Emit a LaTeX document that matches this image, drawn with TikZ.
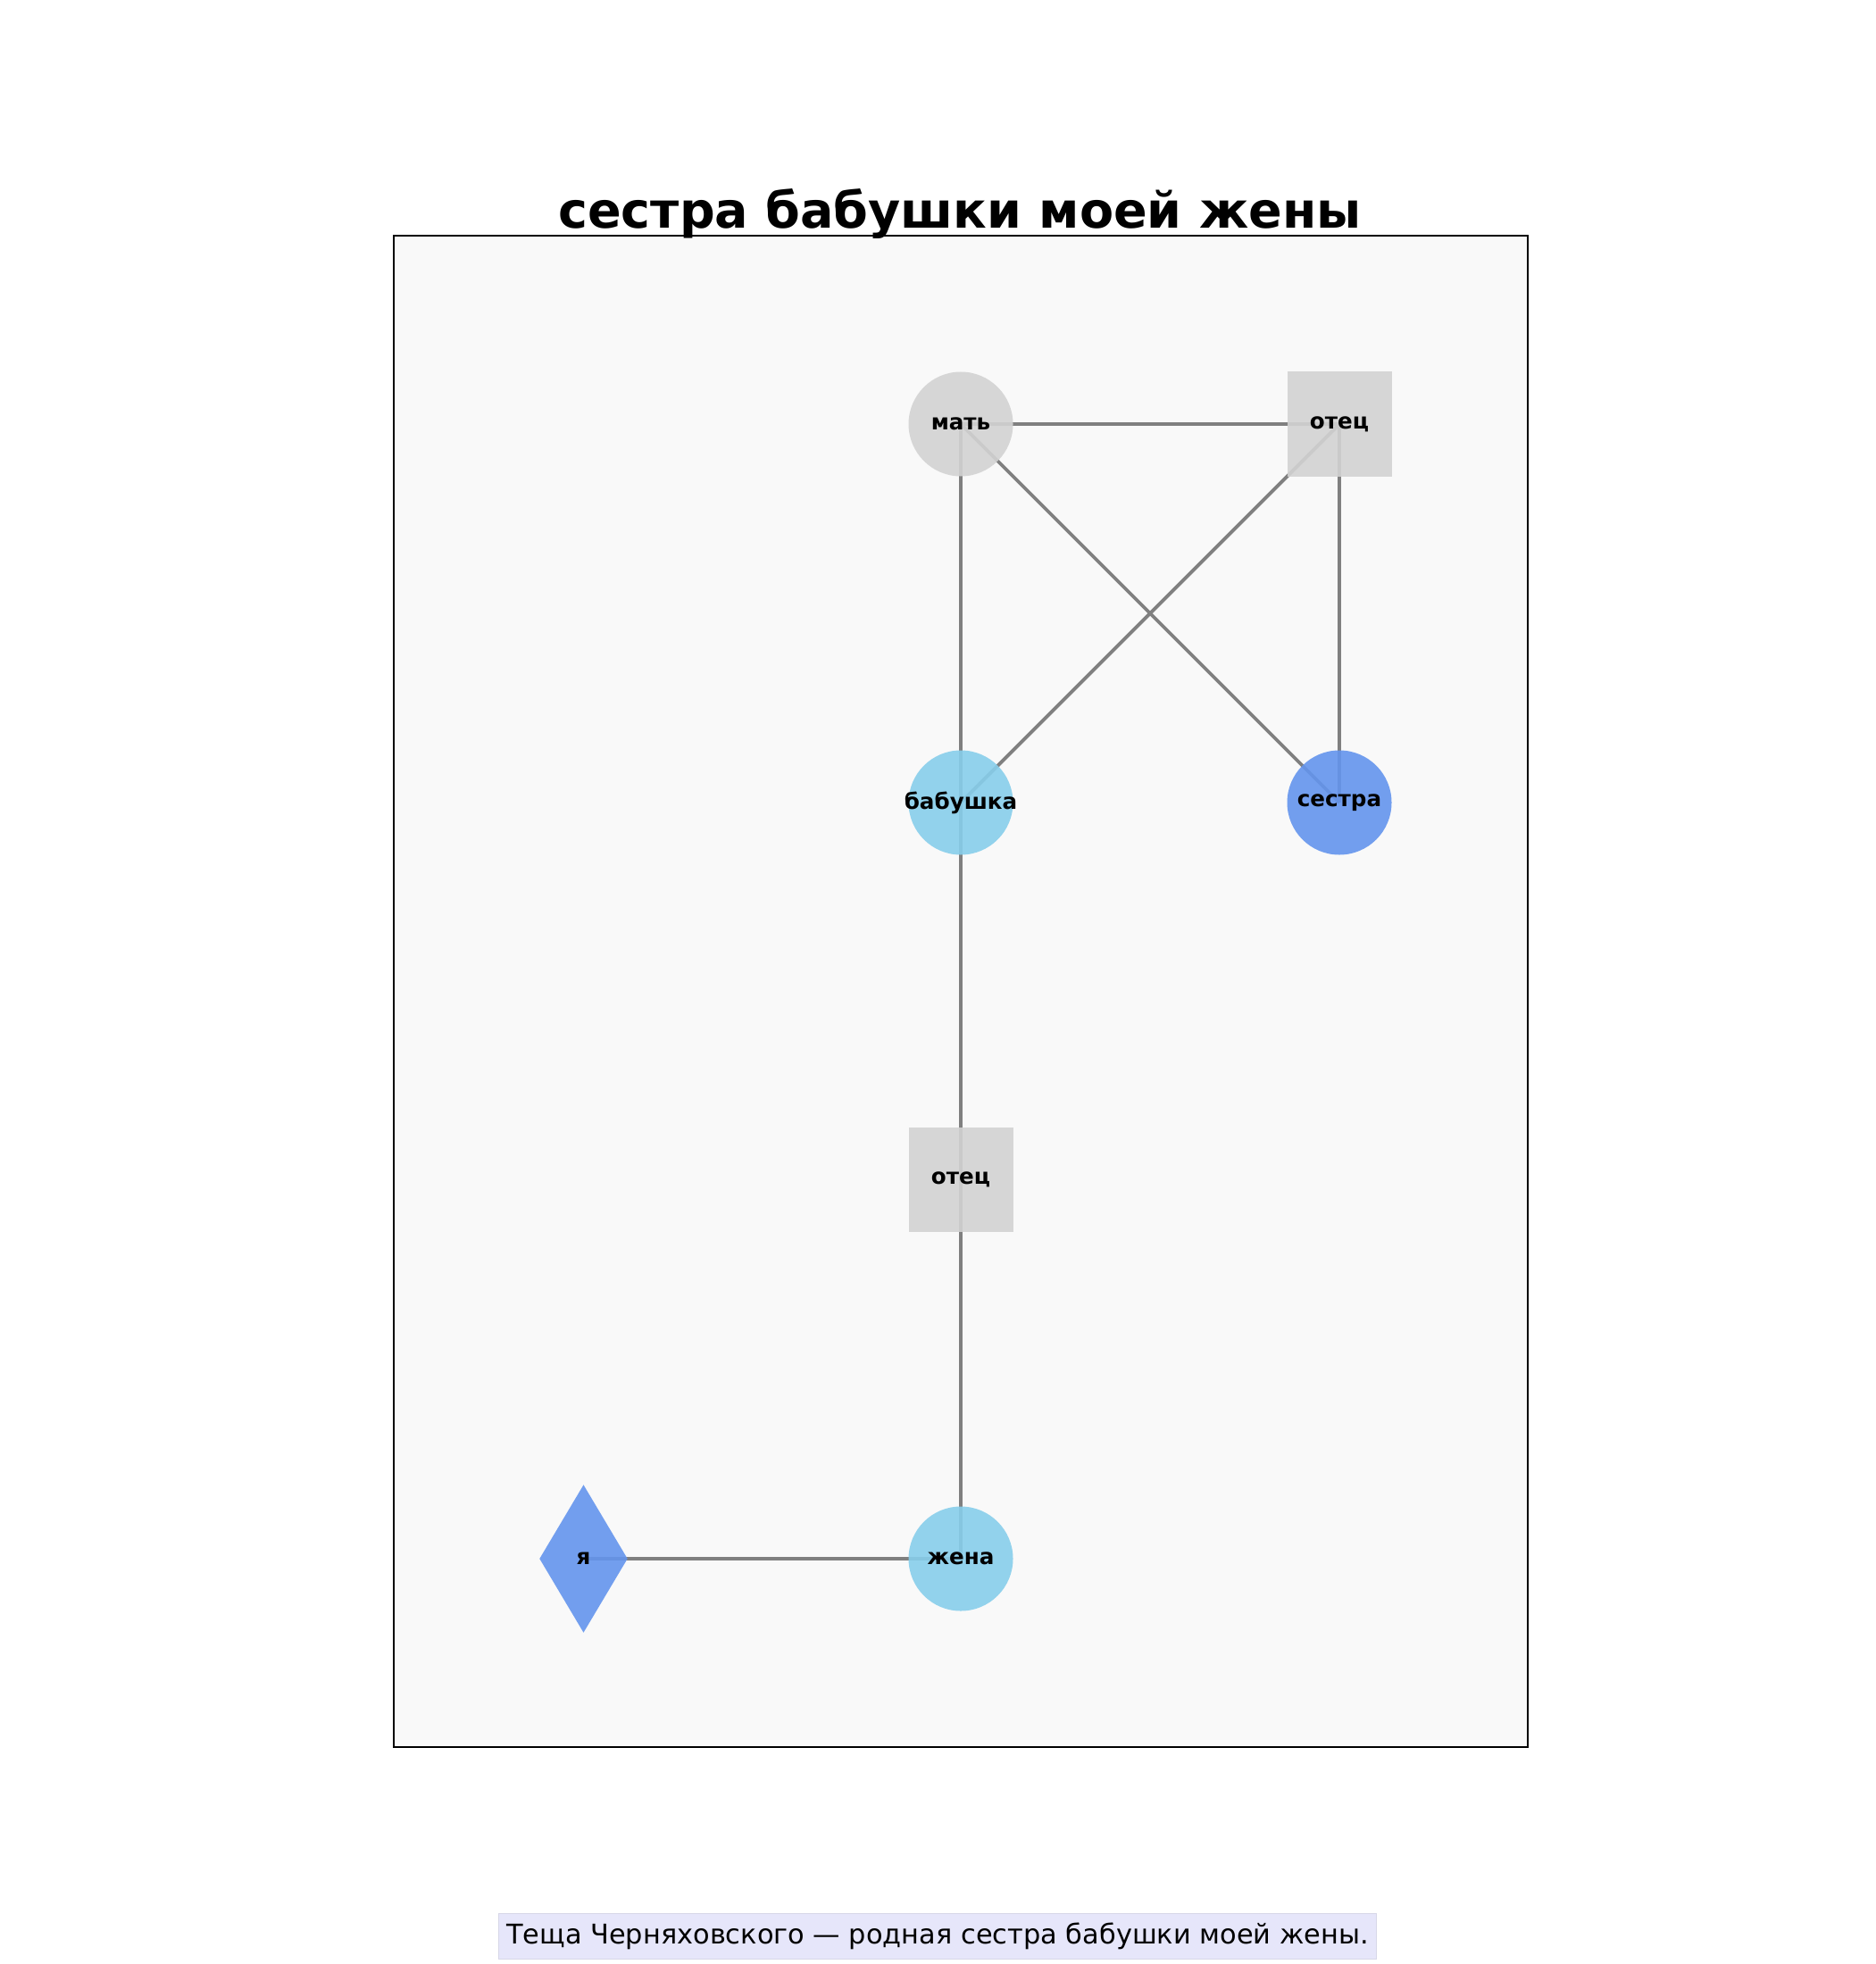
\documentclass[tikz,border=0pt]{standalone}
\usepackage{fontspec}
\setmainfont{DejaVu Sans}
\usetikzlibrary{shapes.geometric,backgrounds}
\definecolor{edgegray}{HTML}{808080}
\definecolor{oldgray}{HTML}{D3D3D3}
\definecolor{skyb}{HTML}{87CEEB}
\definecolor{cornb}{HTML}{6495ED}
\definecolor{panel}{HTML}{F9F9F9}
\definecolor{notefill}{HTML}{E6E6FA}
\newcommand{\nm}[1]{\makebox[0pt]{#1}}
\tikzset{
  person/.style={circle,fill=#1,fill opacity=0.9,text opacity=1,minimum size=1.17cm,inner sep=0pt,font=\fontsize{7}{8}\selectfont\bfseries},
  elder/.style={rectangle,fill=oldgray,fill opacity=0.9,text opacity=1,minimum size=1.17cm,inner sep=0pt,font=\fontsize{7}{8}\selectfont\bfseries},
  me/.style={diamond,fill=cornb,fill opacity=0.9,text opacity=1,minimum width=0.99cm,minimum height=1.66cm,inner sep=0pt,font=\fontsize{7}{8}\selectfont\bfseries},
  link/.style={edgegray,line width=1.1pt}
}
\begin{document}
\begin{tikzpicture}
\useasboundingbox (0,0) rectangle (21,-22);
\node [person=oldgray] (mat) at(10.76,-4.75){\nm{мать}};
\node [elder] (otec) at(15.0,-4.75){\nm{отец}};
\node [person=skyb] (bab) at(10.76,-8.99){\nm{бабушка}};
\node [person=cornb] (sis) at(15.0,-8.99){\nm{сестра}};
\node [elder] (otec2) at(10.76,-13.215){\nm{отец}};
\node [person=skyb] (zhena) at(10.76,-17.46){\nm{жена}};
\node [me] (ya) at(6.535,-17.46){\nm{я}};
\begin{scope}[on background layer]
\draw [fill=panel,draw=black,line width=0.5pt] (4.41,-2.64) rectangle (17.11,-19.57);
\draw[link](mat.center) -- (otec.center);
\draw[link](mat.center) -- (bab.center);
\draw[link](mat.center) -- (sis.center);
\draw[link](otec.center) -- (bab.center);
\draw[link](otec.center) -- (sis.center);
\draw[link](bab.center) -- (otec2.center);
\draw[link](otec2.center) -- (zhena.center);
\draw[link](ya.center) -- (zhena.center);
\end{scope}
\node [anchor=base,font=\fontsize{15.8}{19}\selectfont\bfseries] (title) at(10.75,-2.56){сестра бабушки моей жены};
\node [fill=notefill,draw=notefill!85!gray,line width=0.4pt,inner xsep=2.5pt,inner ysep=3pt,font=\fontsize{8.65}{10}\selectfont] (note) at(10.5,-21.69){Теща Черняховского — родная сестра бабушки моей жены.};
\end{tikzpicture}
\end{document}
